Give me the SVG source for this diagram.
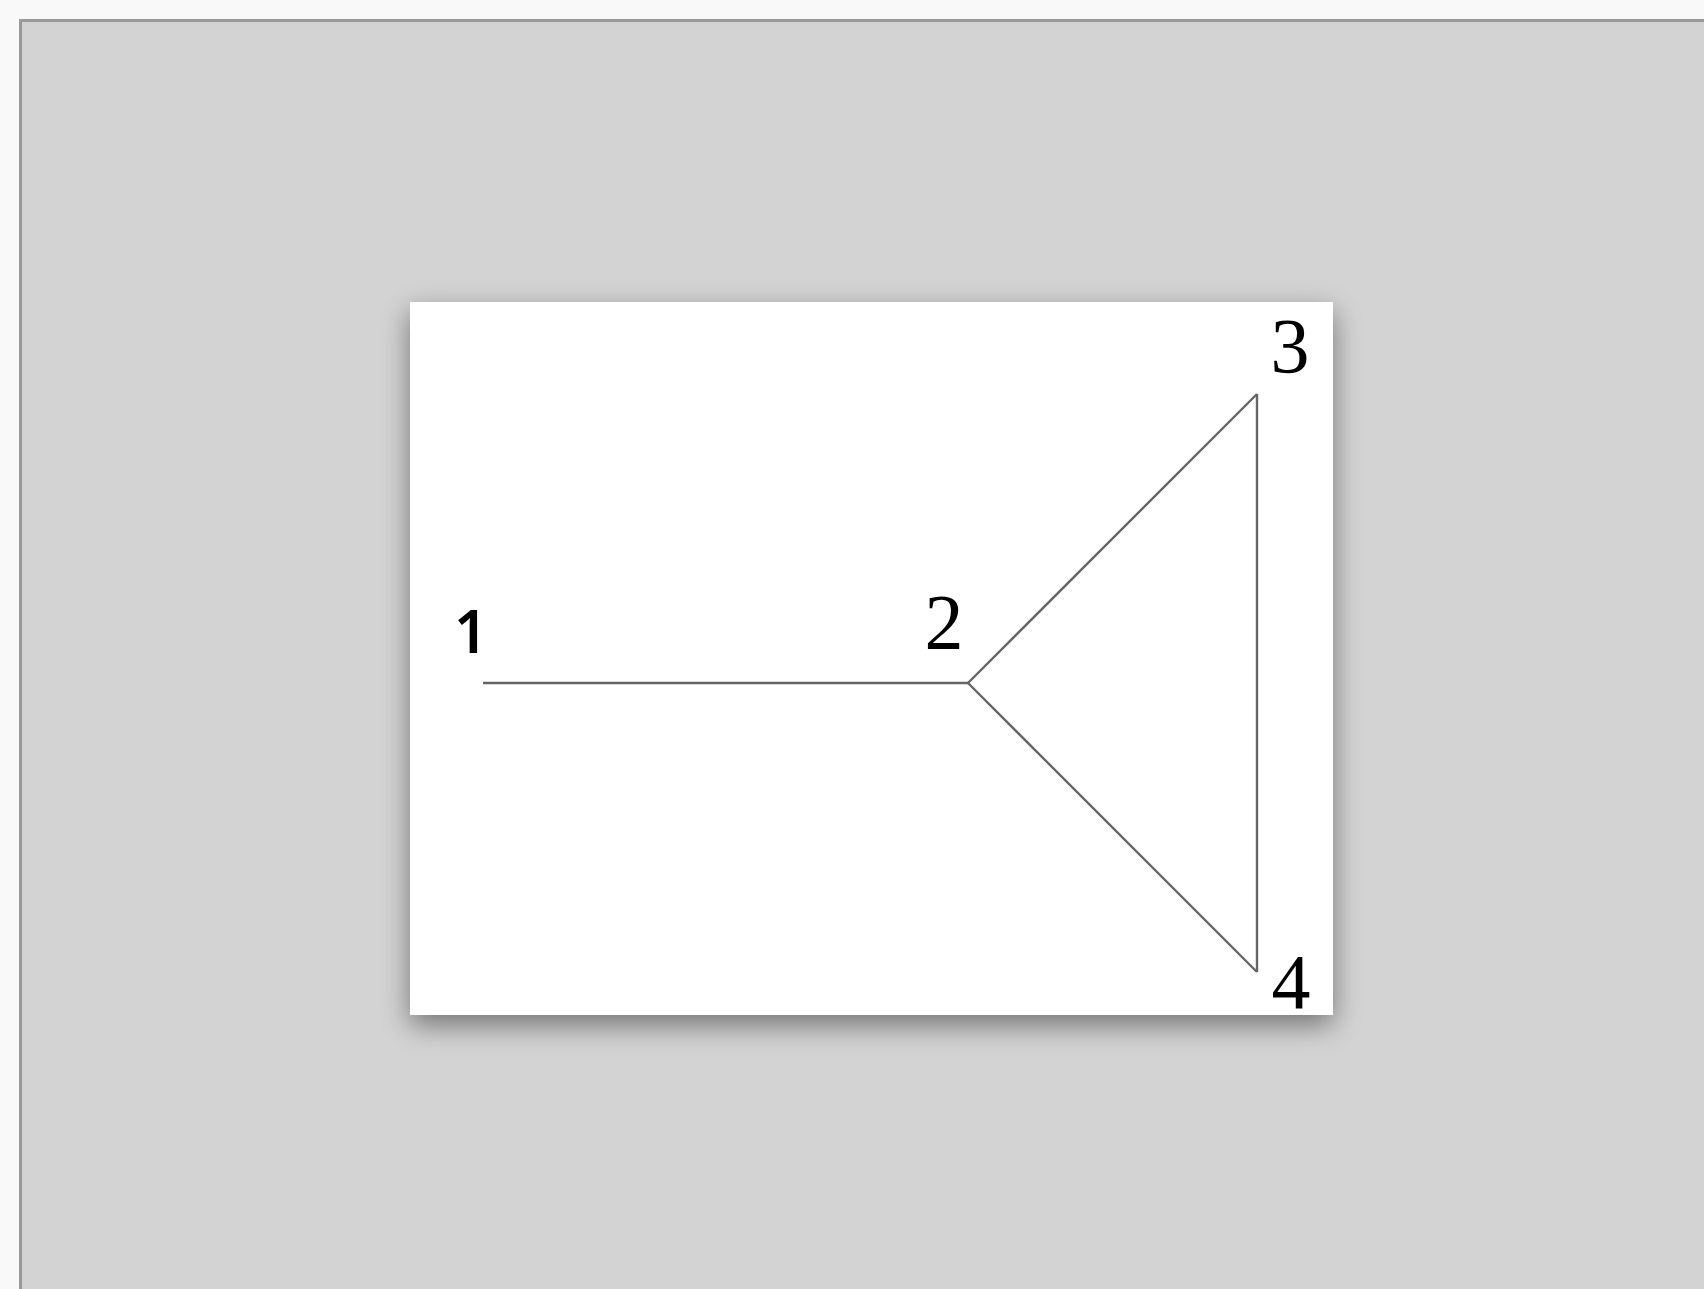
<svg xmlns="http://www.w3.org/2000/svg" width="1704" height="1289" viewBox="0 0 1704 1289">
<defs>
<filter id="sh" x="-15%" y="-15%" width="130%" height="135%">
<feDropShadow dx="0" dy="10" stdDeviation="14" flood-color="#000" flood-opacity="0.45"/>
</filter>
<style>
.edge{stroke:#666666;stroke-width:2.4;fill:none;stroke-linecap:butt}
.serif{font-family:"Liberation Serif","Times New Roman",serif;font-size:78px;fill:#000}
</style>
</defs>
<rect x="0" y="0" width="1704" height="1289" fill="#f9f9f9"/>
<rect x="20.5" y="20.5" width="1700" height="1300" fill="#d3d3d3" stroke="#9a9a9a" stroke-width="3"/>
<rect x="410" y="302" width="923" height="713" fill="#ffffff" filter="url(#sh)"/>
<g id="connectors">
<line class="edge" x1="483" y1="683" x2="968" y2="683"/>
<line class="edge" x1="968" y1="683" x2="1257" y2="394"/>
<line class="edge" x1="1257" y1="394" x2="1257" y2="972"/>
<line class="edge" x1="968" y1="683" x2="1257" y2="972"/>
</g>
<g id="node1"><text x="454" y="653" font-family="Noto Sans, Open Sans, sans-serif" font-size="59" font-weight="600" fill="#000">1</text></g>
<g id="node2"><text class="serif" x="944" y="648" text-anchor="middle">2</text></g>
<g id="node3"><text class="serif" x="1290" y="372" text-anchor="middle">3</text></g>
<g id="node4"><text class="serif" x="1291" y="1008" text-anchor="middle">4</text></g>
</svg>
